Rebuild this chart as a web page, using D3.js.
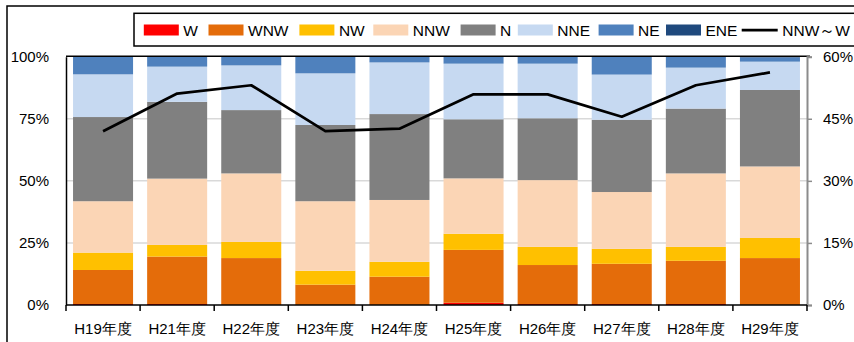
<!DOCTYPE html>
<html>
<head>
<meta charset="utf-8">
<script src="https://cdn.jsdelivr.net/npm/d3@7"></script>
<style>
  html, body { margin: 0; padding: 0; background: #fff; }
  svg { display: block; }
  .axis-label { font-family: "Liberation Sans", Arial, sans-serif; font-size: 15px; fill: #000; }
  .legend-label { font-family: "Liberation Sans", Arial, sans-serif; font-size: 15.5px; fill: #000; }
</style>
</head>
<body>
<svg id="chart" width="854" height="342"></svg>
<script>
// Fiscal years (Heisei)
const categories = ["H19年度", "H21年度", "H22年度", "H23年度", "H24年度", "H25年度", "H26年度", "H27年度", "H28年度", "H29年度"];

// Share of each wind direction (%)
const W   = [0.4, 0.4, 0.0, 0.0, 0.0, 0.9, 0.4, 0.4, 0.4, 0.0];
const WNW = [13.7, 19.1, 18.9, 8.2, 11.4, 21.3, 15.7, 16.2, 17.4, 18.9];
const NW  = [7.0, 4.7, 6.5, 5.6, 6.0, 6.5, 7.3, 6.0, 5.6, 8.1];
const NNW = [20.7, 26.7, 27.6, 28.0, 24.9, 22.3, 26.9, 22.9, 29.6, 28.8];
const N   = [33.9, 30.9, 25.5, 30.7, 34.6, 23.8, 24.9, 29.1, 26.1, 30.8];
const NNE = [17.2, 14.2, 18.0, 20.8, 20.8, 22.4, 22.0, 18.2, 16.5, 11.4];
const NE  = [7.1, 4.0, 3.5, 6.7, 2.3, 2.8, 2.8, 7.2, 4.4, 1.7];
const ENE = [0.0, 0.0, 0.0, 0.0, 0.0, 0.0, 0.0, 0.0, 0.0, 0.3];

// Combined share NNW～W (%), right axis
const nnwToW = [42.0, 51.1, 53.1, 42.0, 42.6, 50.9, 50.9, 45.5, 53.1, 56.2];

const seriesNames = ["W", "WNW", "NW", "NNW", "N", "NNE", "NE", "ENE"];
const seriesValues = [W, WNW, NW, NNW, N, NNE, NE, ENE];
const seriesColors = ["#FF0000", "#E46C0A", "#FFC000", "#FBD5B5", "#808080", "#C6D9F1", "#4F81BD", "#1F497D"];

const leftTicks = [0, 25, 50, 75, 100];
const rightTicks = [0, 15, 30, 45, 60];
const lineLabel = "NNW～W";

const svg = d3.select("#chart");

// Plot area
const plot = { left: 66, right: 807, top: 56.7, bottom: 305 };

const x = d3.scaleBand()
  .domain(categories)
  .range([plot.left, plot.right])
  .paddingInner(0.19)
  .paddingOuter(0.095);

const yLeft = d3.scaleLinear().domain([0, 100]).range([plot.bottom, plot.top]);
const yRight = d3.scaleLinear().domain([0, 60]).range([plot.bottom, plot.top]);

// Outer chart frame
svg.append("rect")
  .attr("x", 7).attr("y", 6).attr("width", 900).attr("height", 400)
  .attr("fill", "none").attr("stroke", "#000").attr("stroke-width", 1.5);

// Gridlines
svg.append("g")
  .selectAll("line")
  .data(leftTicks.filter(d => d > 0 && d < 100))
  .join("line")
  .attr("x1", plot.left).attr("x2", plot.right)
  .attr("y1", d => yLeft(d)).attr("y2", d => yLeft(d))
  .attr("stroke", "#d9d9d9").attr("stroke-width", 1.5);

// Stacked bars
const rows = categories.map((c, i) => {
  const r = { category: c };
  seriesNames.forEach((s, k) => { r[s] = seriesValues[k][i]; });
  return r;
});
const stacked = d3.stack().keys(seriesNames)(rows);

svg.append("g")
  .selectAll("g")
  .data(stacked)
  .join("g")
  .attr("fill", (d, k) => seriesColors[k])
  .selectAll("rect")
  .data(d => d)
  .join("rect")
  .attr("x", d => x(d.data.category))
  .attr("width", x.bandwidth())
  .attr("y", d => yLeft(d[1]))
  .attr("height", d => yLeft(d[0]) - yLeft(d[1]));

// Plot frame: top border
svg.append("line")
  .attr("x1", plot.left).attr("x2", plot.right + 3)
  .attr("y1", plot.top - 0.5).attr("y2", plot.top - 0.5)
  .attr("stroke", "#000").attr("stroke-width", 1.5);

// Left axis
const leftAxis = d3.axisLeft(yLeft).tickValues(leftTicks).tickSize(0).tickPadding(17)
  .tickFormat(d => d + "%");
const gL = svg.append("g").attr("transform", `translate(${plot.left},0)`).call(leftAxis);
gL.select(".domain").attr("stroke", "#000").attr("stroke-width", 1.5);
gL.selectAll("text").attr("class", "axis-label").attr("font-family", null).attr("font-size", null);

// Right axis
const rightAxis = d3.axisRight(yRight).tickValues(rightTicks).tickSize(5).tickPadding(11)
  .tickFormat(d => d + "%");
const gR = svg.append("g").attr("transform", `translate(${plot.right},0)`).call(rightAxis);
gR.select(".domain").attr("stroke", "#8c8c8c").attr("stroke-width", 2);
gR.selectAll(".tick line").attr("stroke", "#8c8c8c").attr("stroke-width", 1.5);
gR.selectAll("text").attr("class", "axis-label").attr("font-family", null).attr("font-size", null);

// Bottom axis with ticks at category boundaries
const gB = svg.append("g").attr("transform", `translate(0,${plot.bottom})`);
gB.append("line")
  .attr("x1", plot.left).attr("x2", plot.right)
  .attr("stroke", "#000").attr("stroke-width", 1.5);
const boundaries = categories.map((c, i) => plot.left + i * x.step());
boundaries.push(plot.right);
gB.selectAll("line.tick")
  .data(boundaries)
  .join("line")
  .attr("class", "tick")
  .attr("x1", d => d).attr("x2", d => d)
  .attr("y1", 0).attr("y2", 6)
  .attr("stroke", "#000").attr("stroke-width", 1.5);
gB.selectAll("text")
  .data(categories)
  .join("text")
  .attr("class", "axis-label")
  .attr("x", d => x(d) + x.bandwidth() / 2)
  .attr("y", 29)
  .attr("text-anchor", "middle")
  .text(d => d);

// NNW～W line on right axis
const line = d3.line()
  .x((d, i) => x(categories[i]) + x.bandwidth() / 2)
  .y(d => yRight(d));
svg.append("path")
  .datum(nnwToW)
  .attr("d", line)
  .attr("fill", "none")
  .attr("stroke", "#000")
  .attr("stroke-width", 2.75)
  .attr("stroke-linejoin", "round");

// Legend
const legend = svg.append("g");
legend.append("rect")
  .attr("x", 134).attr("y", 13.3).attr("width", 800).attr("height", 32.7)
  .attr("fill", "#fff").attr("stroke", "#000").attr("stroke-width", 1.5);

const legendX = [143.8, 208.5, 299.4, 373.3, 460.6, 517.8, 598.6, 666];
seriesNames.forEach((s, k) => {
  legend.append("rect")
    .attr("x", legendX[k]).attr("y", 24.5).attr("width", 35).attr("height", 11)
    .attr("fill", seriesColors[k]);
  legend.append("text")
    .attr("class", "legend-label")
    .attr("x", legendX[k] + 39.5).attr("y", 35.5)
    .text(s);
});
legend.append("line")
  .attr("x1", 741.7).attr("x2", 777.7).attr("y1", 30).attr("y2", 30)
  .attr("stroke", "#000").attr("stroke-width", 2.75);
legend.append("text")
  .attr("class", "legend-label")
  .attr("x", 782.3).attr("y", 35.5)
  .text(lineLabel);
</script>
</body>
</html>
